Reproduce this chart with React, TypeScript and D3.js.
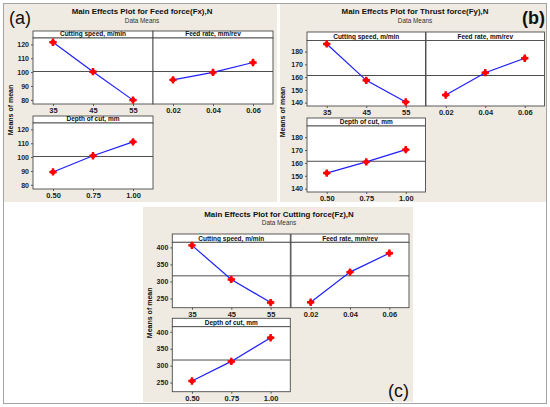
import { useEffect, useRef } from 'react'
import * as d3 from 'd3'

// factor names and levels (same for all three responses)
const FACTORS = ['Cutting speed, m/min', 'Feed rate, mm/rev', 'Depth of cut, mm']
const SPEED_LEVELS = ['35', '45', '55']
const FEED_LEVELS = ['0.02', '0.04', '0.06']
const DEPTH_LEVELS = ['0.50', '0.75', '1.00']
const LEVELS = [SPEED_LEVELS, FEED_LEVELS, DEPTH_LEVELS]

// means
const FX_SPEED = [121.5, 100.3, 79.8]
const FX_FEED = [94.4, 99.8, 106.9]
const FX_DEPTH = [89.3, 101.0, 111.0]

const FY_SPEED = [186.0, 157.5, 140.5]
const FY_FEED = [146.0, 163.5, 174.8]
const FY_DEPTH = [152.1, 160.8, 170.3]

const FZ_SPEED = [406, 306, 238]
const FZ_FEED = [239, 327.5, 383]
const FZ_DEPTH = [254.6, 312.5, 382.5]

const FX_TICKS = [80, 90, 100, 110, 120]
const FY_TICKS = [140, 150, 160, 170, 180]
const FZ_TICKS = [250, 300, 350, 400]

const TITLES = [
  'Main Effects Plot for Feed force(Fx),N',
  'Main Effects Plot for Thrust force(Fy),N',
  'Main Effects Plot for Cutting force(Fz),N',
]

const BEIGE = '#efebe2'
const FONT = '"Liberation Sans", Arial, sans-serif'

interface Panel {
  tag: string; tagX: number; tagY: number; tagBold: boolean
  title: string; titleX: number; titleY: number
  bg: [number, number, number, number]
  cols: [number, number]; colW: number
  rows: [number, number, number][]
  domain: [number, number]
  ticks: number[]
  series: number[][]
  yLabelX: number
}

const PANELS: Panel[] = [
  {
    tag: '(a)', tagX: 9, tagY: 24, tagBold: false,
    title: TITLES[0], titleX: 142, titleY: 14,
    bg: [4, 4, 273, 198],
    cols: [33, 153], colW: 120,
    rows: [[31, 38, 104], [116, 123, 189]],
    domain: [77, 124.6], ticks: FX_TICKS,
    series: [FX_SPEED, FX_FEED, FX_DEPTH],
    yLabelX: 13,
  },
  {
    tag: '(b)', tagX: 522, tagY: 24, tagBold: true,
    title: TITLES[1], titleX: 415, titleY: 14,
    bg: [280, 4, 266, 198],
    cols: [307, 426], colW: 118.5,
    rows: [[32, 40.5, 106], [118, 126, 192]],
    domain: [137.4, 188.7], ticks: FY_TICKS,
    series: [FY_SPEED, FY_FEED, FY_DEPTH],
    yLabelX: 285,
  },
  {
    tag: '(c)', tagX: 388, tagY: 397, tagBold: false,
    title: TITLES[2], titleX: 279, titleY: 216.5,
    bg: [143, 207, 270, 195],
    cols: [172.3, 291], colW: 118,
    rows: [[234, 242.3, 307.7], [318.3, 326.7, 391.7]],
    domain: [223, 415], ticks: FZ_TICKS,
    series: [FZ_SPEED, FZ_FEED, FZ_DEPTH],
    yLabelX: 152,
  },
]

// facet index -> [row, col]
const GRID: [number, number][] = [[0, 0], [0, 1], [1, 0]]

export default function App() {
  const svgRef = useRef<SVGSVGElement>(null)

  useEffect(() => {
    const svg = d3.select(svgRef.current!)
    svg.selectAll('*').remove()
    svg.append('rect').attr('width', 550).attr('height', 407).attr('fill', '#fff')

    PANELS.forEach((p) => {
      const g = svg.append('g').attr('font-family', FONT)
      g.append('rect').attr('x', p.bg[0]).attr('y', p.bg[1]).attr('width', p.bg[2]).attr('height', p.bg[3]).attr('fill', BEIGE)

      g.append('text').attr('x', p.tagX).attr('y', p.tagY).attr('font-size', 18)
        .attr('font-weight', p.tagBold ? 700 : 400).attr('fill', '#111').text(p.tag)
      g.append('text').attr('x', p.titleX).attr('y', p.titleY).attr('text-anchor', 'middle')
        .attr('font-size', 7.9).attr('font-weight', 700).attr('fill', '#111').text(p.title)
      g.append('text').attr('x', p.titleX).attr('y', p.titleY + 8.5).attr('text-anchor', 'middle')
        .attr('font-size', 6.4).attr('fill', '#333').text('Data Means')

      const grand = d3.mean(p.series.flat()) as number

      GRID.forEach(([r, c], i) => {
        const x0 = p.cols[c]
        const w = p.colW
        const [hTop, top, bottom] = p.rows[r]
        const x = d3.scalePoint<string>().domain(LEVELS[i]).range([x0, x0 + w]).padding(0.5)
        const y = d3.scaleLinear().domain(p.domain).range([bottom, top])

        // strip header
        g.append('rect').attr('x', x0).attr('y', hTop).attr('width', w).attr('height', top - hTop)
          .attr('fill', '#fff').attr('stroke', '#4a4a4a').attr('stroke-width', 0.9)
        g.append('text').attr('x', x0 + w / 2).attr('y', top - 1.8).attr('text-anchor', 'middle')
          .attr('font-size', 6.5).attr('font-weight', 700).attr('fill', '#111').text(FACTORS[i])

        // plot area
        g.append('rect').attr('x', x0).attr('y', top).attr('width', w).attr('height', bottom - top)
          .attr('fill', '#fff').attr('stroke', '#4a4a4a').attr('stroke-width', 0.9)

        // grand mean reference line
        g.append('line').attr('x1', x0).attr('x2', x0 + w).attr('y1', y(grand)).attr('y2', y(grand))
          .attr('stroke', '#4d4d4d').attr('stroke-width', 1)

        // axes
        const xa = g.append('g').attr('transform', `translate(0,${bottom})`)
          .call(d3.axisBottom(x).tickSize(2).tickSizeOuter(0).tickPadding(2))
        xa.select('.domain').remove()
        xa.selectAll('text').attr('font-size', 7.5).attr('font-weight', 700).attr('fill', '#222').attr('font-family', FONT)
        xa.selectAll('line').attr('stroke', '#555')

        if (c === 0) {
          const ya = g.append('g').attr('transform', `translate(${x0},0)`)
            .call(d3.axisLeft(y).tickValues(p.ticks).tickSize(2).tickPadding(2))
          ya.select('.domain').remove()
          ya.selectAll('text').attr('font-size', 7).attr('font-weight', 700).attr('fill', '#222').attr('font-family', FONT)
          ya.selectAll('line').attr('stroke', '#555')
        }

        // main-effect line and markers
        const vals = p.series[i]
        const line = d3.line<number>().x((_, k) => x(LEVELS[i][k]) as number).y((v) => y(v))
        g.append('path').attr('d', line(vals)).attr('fill', 'none').attr('stroke', '#1f1fff').attr('stroke-width', 1.2)
        const cross = d3.symbol().type(d3.symbolCross).size(30)
        vals.forEach((v, k) => {
          const mx = x(LEVELS[i][k]) as number
          const my = y(v)
          g.append('circle').attr('cx', mx).attr('cy', my).attr('r', 2.5).attr('fill', '#ff0000')
          g.append('path').attr('d', cross()).attr('transform', `translate(${mx},${my})`).attr('fill', '#ff0000')
        })
      })

      const midY = (p.rows[0][0] + p.rows[1][2]) / 2
      g.append('text').attr('transform', `translate(${p.yLabelX},${midY}) rotate(-90)`)
        .attr('text-anchor', 'middle').attr('font-size', 7).attr('font-weight', 700).attr('fill', '#111')
        .text('Means of mean')
    })

    // outer frame
    svg.append('rect').attr('x', 3.5).attr('y', 3.5).attr('width', 543).attr('height', 400)
      .attr('fill', 'none').attr('stroke', '#a3a3a3').attr('stroke-width', 1)
  }, [])

  return (
    <svg ref={svgRef} width={550} height={407}
      style={{ position: 'absolute', left: 0, top: 0, display: 'block' }} />
  )
}
